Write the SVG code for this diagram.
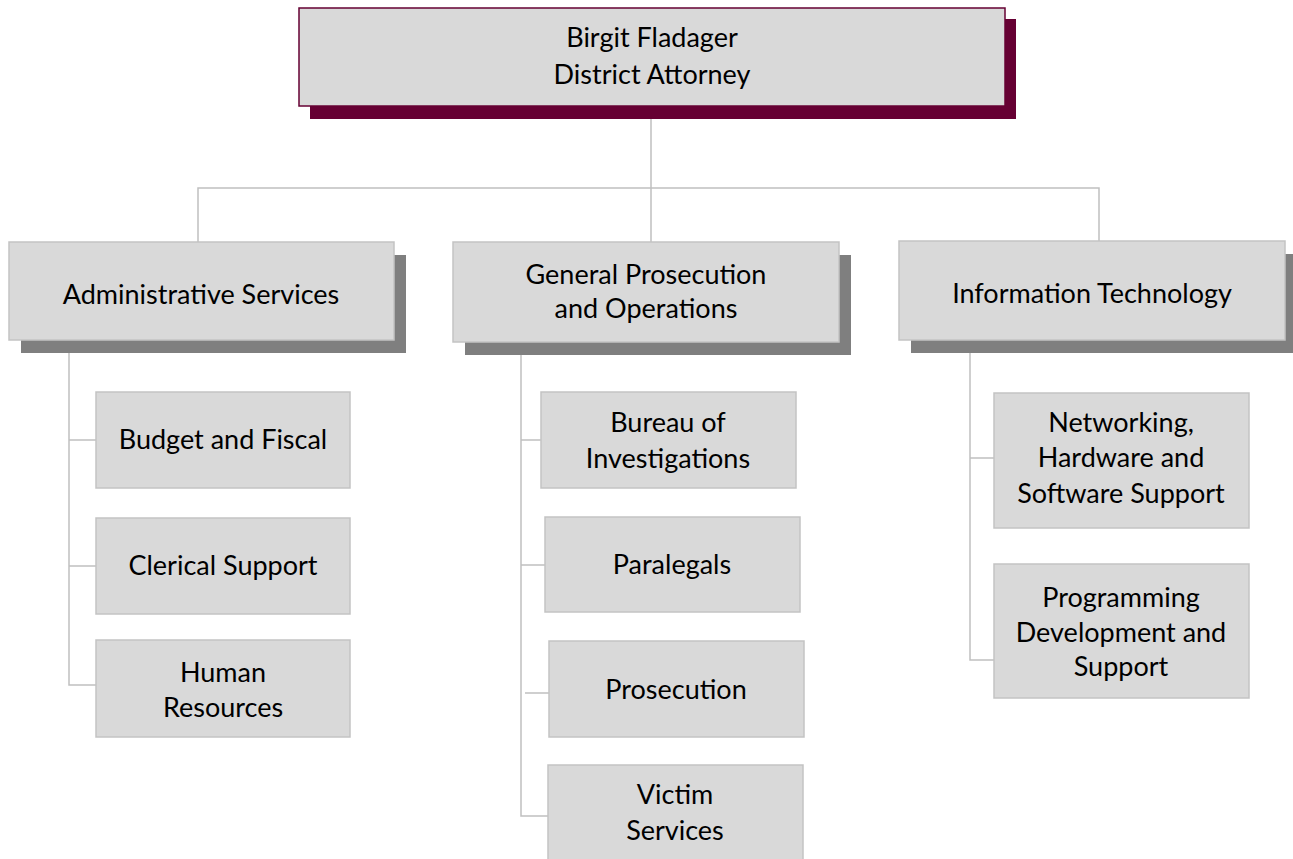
<svg xmlns="http://www.w3.org/2000/svg" width="1293" height="859" viewBox="0 0 1293 859">
<style>
.box{fill:#d9d9d9;stroke:#c3c3c3;stroke-width:1.5}
.topbox{fill:#d9d9d9;stroke:#660033;stroke-width:1.5}
.tshadow{fill:#660033}
.shadow{fill:#7f7f7f}
.conn{fill:none;stroke:#c0c0c0;stroke-width:1.5}
text{font-family:Lato,"Open Sans","Liberation Sans",sans-serif;font-size:27px;fill:#000;text-anchor:middle}
</style>
<rect width="1293" height="859" fill="#fff"/>
<g id="connectors">
<path class="conn" d="M651,118 V188 M198,242 V188 H1099 V242 M651,188 V242"/>
<path class="conn" d="M69,353 V685 H96 M69,440 H96 M69,566 H96"/>
<path class="conn" d="M521,355 V816 H548 M521,440 H541 M521,565 H545 M525,693 H549"/>
<path class="conn" d="M970,353 V660 H994 M970,458 H994"/>
</g>
<g id="n-da">
<rect class="tshadow" x="310" y="19" width="706" height="100"/>
<rect class="topbox" x="299" y="8" width="706" height="98"/>
<text x="652" y="47">Birgit Fladager</text>
<text x="652" y="84">District Attorney</text>
</g>
<g id="n-admin">
<rect class="shadow" x="21" y="255" width="385" height="98"/>
<rect class="box" x="9" y="242" width="385" height="98"/>
<text x="201" y="304">Administrative Services</text>
</g>
<g id="n-gpo">
<rect class="shadow" x="465" y="255" width="386" height="100"/>
<rect class="box" x="453" y="242" width="386" height="100"/>
<text x="646" y="284">General Prosecution</text>
<text x="646" y="318">and Operations</text>
</g>
<g id="n-it">
<rect class="shadow" x="911" y="254" width="386" height="99"/>
<rect class="box" x="899" y="241" width="386" height="99"/>
<text x="1092" y="303">Information Technology</text>
</g>
<g id="n-budget">
<rect class="box" x="96" y="392" width="254" height="96"/>
<text x="223" y="449">Budget and Fiscal</text>
</g>
<g id="n-clerical">
<rect class="box" x="96" y="518" width="254" height="96"/>
<text x="223" y="575">Clerical Support</text>
</g>
<g id="n-hr">
<rect class="box" x="96" y="640" width="254" height="97"/>
<text x="223" y="682">Human</text>
<text x="223" y="717">Resources</text>
</g>
<g id="n-bureau">
<rect class="box" x="541" y="392" width="255" height="96"/>
<text x="668" y="432">Bureau of</text>
<text x="668" y="468">Investigations</text>
</g>
<g id="n-paralegals">
<rect class="box" x="545" y="517" width="255" height="95"/>
<text x="672" y="574">Paralegals</text>
</g>
<g id="n-prosecution">
<rect class="box" x="549" y="641" width="255" height="96"/>
<text x="676" y="699">Prosecution</text>
</g>
<g id="n-victim">
<rect class="box" x="548" y="765" width="255" height="100"/>
<text x="675" y="804">Victim</text>
<text x="675" y="840">Services</text>
</g>
<g id="n-networking">
<rect class="box" x="994" y="393" width="255" height="135"/>
<text x="1121" y="432">Networking,</text>
<text x="1121" y="467">Hardware and</text>
<text x="1121" y="503">Software Support</text>
</g>
<g id="n-programming">
<rect class="box" x="994" y="564" width="255" height="134"/>
<text x="1121" y="607">Programming</text>
<text x="1121" y="642">Development and</text>
<text x="1121" y="676">Support</text>
</g>
</svg>
